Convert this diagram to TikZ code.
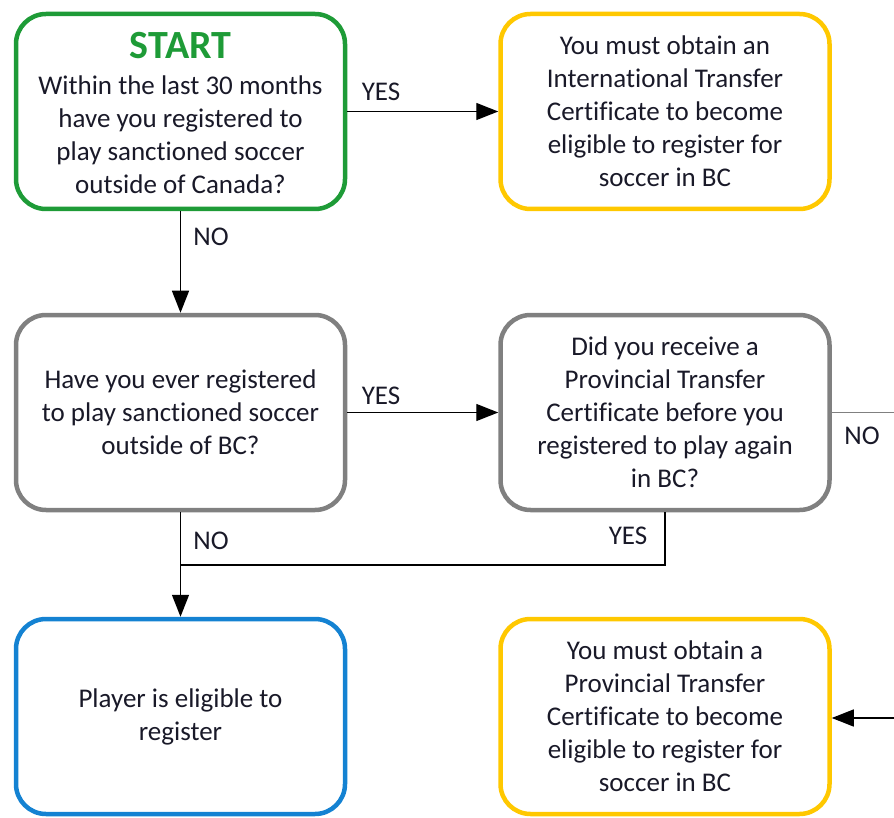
\documentclass[tikz,border=0pt]{standalone}
\usepackage{fontspec}
\setmainfont[Ligatures=NoCommon]{Carlito}
\usetikzlibrary{arrows.meta}
\definecolor{cgreen}{RGB}{30,155,55}
\definecolor{cyellow}{RGB}{255,200,0}
\definecolor{cgrey}{RGB}{128,128,128}
\definecolor{cblue}{RGB}{20,130,210}
\definecolor{ctext}{RGB}{25,25,40}
\begin{document}
\begin{tikzpicture}[x=1pt,y=1pt,
  box/.style={draw, line width=4.5pt, rounded corners=30pt, minimum width=329pt, minimum height=195pt,
    align=center, text=ctext, font=\fontsize{27}{33}\selectfont, inner sep=0pt},
  conn/.style={line width=1.4pt, draw=black},
  arr/.style={conn, -{Triangle[length=22pt,width=17pt]}},
  lbl/.style={text=ctext, font=\fontsize{27}{30}\selectfont, inner sep=0pt}]
\useasboundingbox (0,0) rectangle (894,-818);
\node[box, draw=cgreen] (start) at (180.5,-111.5) {{\fontsize{40}{42}\selectfont\bfseries\color{cgreen}\rule{0pt}{30pt}START}\\[3pt]Within the last 30 months\\have you registered to\\play sanctioned soccer\\outside of Canada?};
\node[box, draw=cyellow] (itc) at (665,-111.5) {You must obtain an\\International Transfer\\Certificate to become\\eligible to register for\\soccer in BC};
\node[box, draw=cgrey] (bc) at (180.5,-412.5) {Have you ever registered\\to play sanctioned soccer\\outside of BC?};
\node[box, draw=cgrey] (ptcq) at (665,-412.5) {Did you receive a\\Provincial Transfer\\Certificate before you\\registered to play again\\in BC?};
\node[box, draw=cblue] (elig) at (180.5,-716.5) {Player is eligible to\\register};
\node[box, draw=cyellow] (ptc) at (665,-716.5) {You must obtain a\\Provincial Transfer\\Certificate to become\\eligible to register for\\soccer in BC};
\coordinate (redge) at (894,-412.5);
\coordinate (redge2) at (894,-718);
\coordinate (join) at (665,-565);
\coordinate (joinl) at (180.5,-565);
% connectors
\draw[arr] (start.east) -- (itc.west);
\node[lbl] (l1) at (381,-92) {YES};
\draw[arr] (start.south) -- (bc.north);
\node[lbl] (l2) at (211,-237) {NO};
\draw[arr] (bc.east) -- (ptcq.west);
\node[lbl] (l3) at (381,-396) {YES};
\draw[conn, draw=cgrey] (ptcq.east) -- (redge);
\node[lbl] (l4) at (862,-436) {NO};
\draw[arr] (redge2) -- (ptc.east |- redge2);
\draw[arr] (bc.south) -- (elig.north);
\node[lbl] (l5) at (211,-541) {NO};
\draw[conn] (ptcq.south) -- (join) -- (joinl);
\node[lbl] (l6) at (628,-536) {YES};
\end{tikzpicture}
\end{document}
